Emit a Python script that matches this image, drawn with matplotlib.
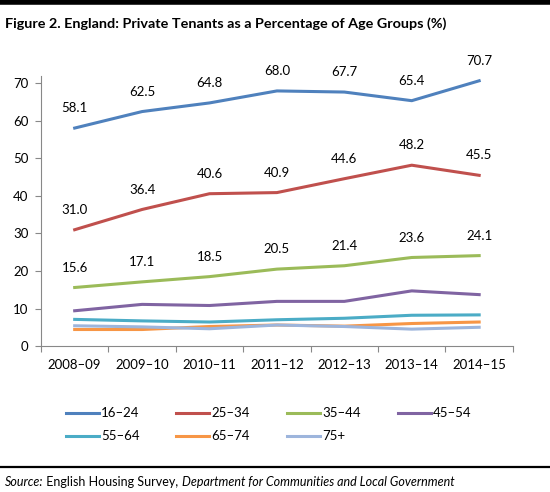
import matplotlib
matplotlib.use("Agg")
import matplotlib.pyplot as plt
from matplotlib.lines import Line2D

plt.rcParams['font.family'] = ['Lato', 'DejaVu Sans']

years = ['2008\u201309', '2009\u201310', '2010\u201311', '2011\u201312',
         '2012\u201313', '2013\u201314', '2014\u201315']
age_16_24 = [58.1, 62.5, 64.8, 68.0, 67.7, 65.4, 70.7]
age_25_34 = [31.0, 36.4, 40.6, 40.9, 44.6, 48.2, 45.5]
age_35_44 = [15.6, 17.1, 18.5, 20.5, 21.4, 23.6, 24.1]
age_45_54 = [9.4, 11.1, 10.8, 11.9, 11.9, 14.7, 13.7]
age_55_64 = [7.1, 6.7, 6.4, 7.0, 7.4, 8.2, 8.3]
age_65_74 = [4.4, 4.4, 5.2, 5.6, 5.3, 6.0, 6.4]
age_75 = [5.4, 5.1, 4.6, 5.6, 5.2, 4.5, 5.0]

series = [('16\u201324', age_16_24, '#4F81BD', True),
          ('25\u201334', age_25_34, '#C0504D', True),
          ('35\u201344', age_35_44, '#9BBB59', True),
          ('45\u201354', age_45_54, '#8064A2', False),
          ('55\u201364', age_55_64, '#4BACC6', False),
          ('65\u201374', age_65_74, '#F79646', False),
          ('75+', age_75, '#9DB5DC', False)]

W, H = 550, 492
fig = plt.figure(figsize=(W / 100, H / 100), dpi=100)
ax = fig.add_axes([0.0745, 0.2967, 0.858, 0.549])

x = list(range(len(years)))
for name, vals, col, labelled in series:
    ax.plot(x, vals, color=col, linewidth=2.2, label=name)
    if labelled:
        for xi, v in zip(x, vals):
            ax.annotate('%.1f' % v, (xi, v), xytext=(0, 10), textcoords='offset points',
                        ha='center', va='bottom', fontsize=9.5, color='black')

ax.set_xlim(-0.5, 6.5)
ax.set_ylim(0, 72)
ax.set_yticks(range(0, 71, 10))
ax.set_xticks([i - 0.5 for i in range(8)], minor=False)
ax.set_xticklabels([])
ax.set_xticks(x, minor=True)
ax.set_xticklabels(years, minor=True)
ax.tick_params(axis='x', which='minor', length=0, labelsize=9.5, pad=9)
ax.tick_params(axis='x', which='major', length=4, color='#888888')
ax.tick_params(axis='y', length=4, color='#888888', labelsize=9.5, pad=5)
for s in ['top', 'right']:
    ax.spines[s].set_visible(False)
for s in ['left', 'bottom']:
    ax.spines[s].set_color('#888888')

# legend laid out by hand, 4 per row like the Excel original
col_x = [66, 176, 287, 398]
row_y = [413, 436]
for i, (name, vals, col, labelled) in enumerate(series):
    px = col_x[i % 4]
    py = H - row_y[i // 4]
    fig.add_artist(Line2D([px / W, (px + 33) / W], [py / H, py / H], color=col,
                          linewidth=2.2, transform=fig.transFigure))
    fig.text((px + 35) / W, py / H, name, fontsize=9.5, va='center', ha='left')

fig.add_artist(Line2D([0, 1], [0.995, 0.995], color='black', linewidth=4, transform=fig.transFigure))
fig.add_artist(Line2D([0, 1], [0.051, 0.051], color='black', linewidth=1.6, transform=fig.transFigure))

fig.text(0.009, 0.965, 'Figure 2. England: Private Tenants as a Percentage of Age Groups (%)',
         fontsize=10.4, fontweight='bold', va='top', ha='left')

fs = 9.0
t1 = fig.text(0.009, 0.012, 'Source:', fontsize=fs, style='italic', va='baseline')
t2 = fig.text(0, 0, ' English Housing Survey, ', fontsize=fs, va='baseline')
t3 = fig.text(0, 0, 'Department for Communities and Local Government', fontsize=fs,
              style='italic', va='baseline')
fig.canvas.draw()
r = fig.canvas.get_renderer()
bb1 = t1.get_window_extent(r)
t2.set_position(((bb1.x1) / fig.bbox.width, 0.012))
fig.canvas.draw()
bb2 = t2.get_window_extent(r)
t3.set_position(((bb2.x1) / fig.bbox.width, 0.012))

fig.savefig('out.png', dpi=100)
